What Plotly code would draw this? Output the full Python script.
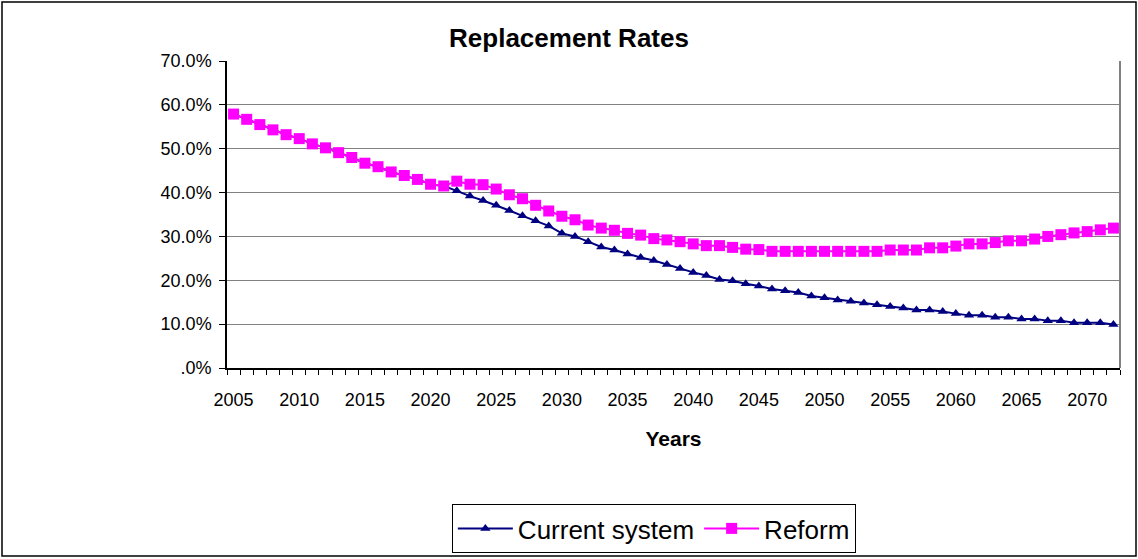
import plotly.graph_objects as go

# Years on the horizontal axis
years = list(range(2005, 2073))

# Replacement rate under the current system (%)
current_system = [
    57.9, 56.7, 55.5, 54.3, 53.2, 52.3, 51.1, 50.2, 49.1, 48.0,   # 2005-2014
    46.7, 45.9, 44.7, 43.9, 43.0, 41.9, 41.5, 40.4, 39.2, 38.2,   # 2015-2024
    37.1, 35.9, 34.7, 33.6, 32.4, 30.7, 30.0, 28.8, 27.6, 26.9,   # 2025-2034
    26.0, 25.2, 24.5, 23.6, 22.7, 21.8, 21.1, 20.2, 19.9, 19.2,   # 2035-2044
    18.7, 18.0, 17.6, 17.2, 16.4, 16.0, 15.5, 15.2, 14.8, 14.4,   # 2045-2054
    14.0, 13.7, 13.2, 13.2, 12.9, 12.4, 12.0, 12.0, 11.6, 11.6,   # 2055-2064
    11.2, 11.2, 10.8, 10.8, 10.3, 10.3, 10.3, 9.9,                # 2065-2072
]

# Replacement rate under the reform (%)
reform = [
    57.9, 56.7, 55.5, 54.3, 53.2, 52.3, 51.1, 50.2, 49.1, 48.0,   # 2005-2014
    46.7, 45.9, 44.7, 43.9, 43.0, 41.9, 41.5, 42.6, 41.9, 41.8,   # 2015-2024
    40.8, 39.5, 38.6, 37.1, 35.8, 34.6, 33.8, 32.6, 31.9, 31.4,   # 2025-2034
    30.7, 30.3, 29.5, 29.2, 28.8, 28.3, 27.9, 27.9, 27.5, 27.1,   # 2035-2044
    27.0, 26.6, 26.6, 26.6, 26.6, 26.6, 26.6, 26.6, 26.6, 26.6,   # 2045-2054
    26.9, 26.9, 26.9, 27.4, 27.4, 27.8, 28.3, 28.3, 28.6, 29.0,   # 2055-2064
    29.0, 29.4, 30.0, 30.4, 30.8, 31.1, 31.5, 31.9,               # 2065-2072
]

# Axis labels
x_tick_years = list(range(2005, 2071, 5))
y_tick_values = [0, 10, 20, 30, 40, 50, 60, 70]
y_tick_labels = [".0%", "10.0%", "20.0%", "30.0%", "40.0%", "50.0%", "60.0%", "70.0%"]

FONT = "Arial, Liberation Sans, sans-serif"

fig = go.Figure()

fig.add_trace(go.Scatter(
    x=years, y=current_system, name="Current system",
    mode="lines+markers",
    line=dict(color="#000080", width=2),
    marker=dict(symbol="triangle-up", size=9, color="#000080"),
))

fig.add_trace(go.Scatter(
    x=years, y=reform, name="Reform",
    mode="lines+markers",
    line=dict(color="#FF00FF", width=2),
    marker=dict(symbol="square", size=11, color="#FF00FF"),
))

fig.update_layout(
    width=1138, height=559,
    margin=dict(l=227, r=18, t=61, b=191, autoexpand=False),
    paper_bgcolor="white", plot_bgcolor="white",
    font=dict(family=FONT, color="black"),
    title=dict(
        text="<b>Replacement Rates</b>",
        x=0.5, xref="container", xanchor="center",
        y=1 - 38 / 559, yref="container", yanchor="middle",
        font=dict(size=26, family=FONT, color="black"),
    ),
    showlegend=True,
    legend=dict(
        orientation="h",
        x=0.478, xanchor="center",
        y=(368 - 504) / 307, yanchor="top",
        bordercolor="black", borderwidth=1,
        itemwidth=55,
        font=dict(size=26, family=FONT, color="black"),
        bgcolor="white",
    ),
)

fig.update_xaxes(
    range=[2004.5, 2072.5],
    tickvals=x_tick_years,
    ticktext=[str(y) for y in x_tick_years],
    ticks="",
    ticklabelstandoff=15,
    tickfont=dict(size=18, family=FONT, color="black"),
    showgrid=False, zeroline=False, automargin=False,
    showline=True, linecolor="black", linewidth=1.5,
    minor=dict(ticks="outside", tick0=2004.5, dtick=1, ticklen=5,
               tickcolor="black", tickwidth=1, showgrid=False),
    title=dict(text="<b>Years</b>", standoff=22,
               font=dict(size=21, family=FONT, color="black")),
)

fig.update_yaxes(
    range=[0, 70],
    tickvals=y_tick_values,
    ticktext=y_tick_labels,
    ticks="outside", ticklen=6, tickcolor="black", tickwidth=1,
    ticklabelstandoff=4,
    tickfont=dict(size=18, family=FONT, color="black"),
    showgrid=True, gridcolor="#808080", gridwidth=1,
    zeroline=False, automargin=False,
    showline=True, linecolor="black", linewidth=1.5,
)

# Plot-area frame on the right and the outer chart border
fig.add_shape(type="line", xref="paper", yref="paper",
              x0=1, x1=1, y0=0, y1=1,
              line=dict(color="#808080", width=2))
fig.add_shape(type="rect", xref="paper", yref="paper",
              x0=(2 - 227) / 893, x1=(1136 - 227) / 893,
              y0=(368 - 556) / 307, y1=(368 - 2) / 307,
              line=dict(color="black", width=1.5), layer="below")

fig.write_html("out.html")
